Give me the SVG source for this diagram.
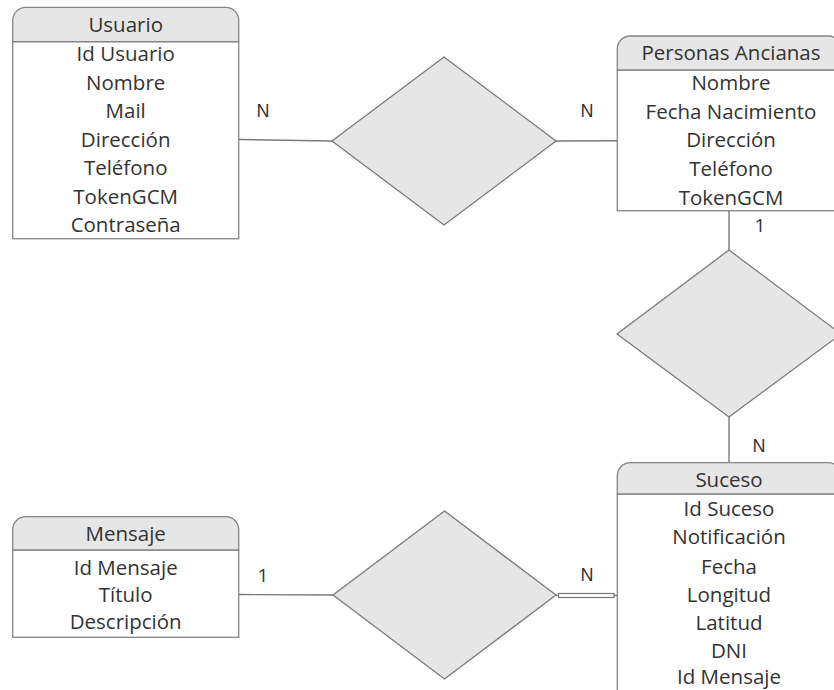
<svg xmlns="http://www.w3.org/2000/svg" width="834" height="690" viewBox="0 0 834 690">
  <defs>
    <style>
      .box { fill: #ffffff; stroke: #858585; stroke-width: 1.3; }
      .head { fill: #e6e6e6; stroke: #858585; stroke-width: 1.3; }
      .rel { fill: #e6e6e6; stroke: #7a7a7a; stroke-width: 1.3; }
      .conn { fill: none; stroke: #7a7a7a; stroke-width: 1.4; }
      .t { font-family: "Open Sans", "Noto Sans", sans-serif; font-size: 20.5px; fill: #333333; text-anchor: middle; }
      .card { font-family: "Liberation Sans", Arial, sans-serif; font-size: 18px; fill: #333333; text-anchor: middle; }
      .one { font-family: "Open Sans", "Noto Sans", sans-serif; font-size: 19px; fill: #333333; text-anchor: middle; }
    </style>
  </defs>

  <!-- connectors -->
  <g id="connectors">
    <line class="conn" x1="238.5" y1="139.5" x2="332" y2="141"/>
    <line class="conn" x1="556" y1="141" x2="617" y2="140.7"/>
    <line class="conn" x1="729" y1="210.7" x2="729" y2="250"/>
    <line class="conn" x1="729" y1="417" x2="729" y2="462.7"/>
    <line class="conn" x1="238.5" y1="594.5" x2="333" y2="595"/>
    <!-- double line into Suceso -->
    <rect x="558.5" y="593.5" width="55.5" height="4" fill="#ffffff" stroke="#7a7a7a" stroke-width="1.2"/>
    <line class="conn" x1="614" y1="595.5" x2="617" y2="595.5"/>
    <line class="conn" x1="556" y1="595.5" x2="558.5" y2="595.5"/>
  </g>

  <!-- cardinality labels -->
  <g id="labels">
    <text class="card" x="263" y="117">N</text>
    <text class="card" x="587" y="117">N</text>
    <text class="one" x="760" y="232">1</text>
    <text class="card" x="759" y="452">N</text>
    <text class="one" x="263" y="582">1</text>
    <text class="card" x="587" y="581">N</text>
  </g>

  <!-- relationships -->
  <g id="rel-usuario-personas">
    <polygon class="rel" points="444,57 556,141 444,225 332,141"/>
  </g>
  <g id="rel-personas-suceso">
    <polygon class="rel" points="729,250 841,334 729,417 617,334"/>
  </g>
  <g id="rel-mensaje-suceso">
    <polygon class="rel" points="444.5,511 556,595 444.5,679 333,595"/>
  </g>

  <!-- entity: Usuario -->
  <g id="usuario">
    <rect class="box" x="12.7" y="41.7" width="226" height="197"/>
    <path class="head" d="M12.7,41.7 V20.3 A13,13 0 0 1 25.7,7.3 H225.7 A13,13 0 0 1 238.7,20.3 V41.7 Z"/>
    <text class="t" x="125.7" y="32">Usuario</text>
    <text class="t" x="125.7" y="61">Id Usuario</text>
    <text class="t" x="125.7" y="90">Nombre</text>
    <text class="t" x="125.7" y="118">Mail</text>
    <text class="t" x="125.7" y="147">Dirección</text>
    <text class="t" x="125.7" y="175">Teléfono</text>
    <text class="t" x="125.7" y="204">TokenGCM</text>
    <text class="t" x="125.7" y="232">Contraseña</text>
  </g>

  <!-- entity: Personas Ancianas -->
  <g id="personas-ancianas">
    <rect class="box" x="617.3" y="70" width="224" height="140.7"/>
    <path class="head" d="M617.3,70 V49 A13,13 0 0 1 630.3,36 H828.3 A13,13 0 0 1 841.3,49 V70 Z"/>
    <text class="t" x="731" y="60">Personas Ancianas</text>
    <text class="t" x="731" y="90">Nombre</text>
    <text class="t" x="731" y="119">Fecha Nacimiento</text>
    <text class="t" x="731" y="147">Dirección</text>
    <text class="t" x="731" y="176">Teléfono</text>
    <text class="t" x="731" y="205">TokenGCM</text>
  </g>

  <!-- entity: Suceso -->
  <g id="suceso">
    <rect class="box" x="617.3" y="494" width="224" height="210"/>
    <path class="head" d="M617.3,494 V475.7 A13,13 0 0 1 630.3,462.7 H828.3 A13,13 0 0 1 841.3,475.7 V494 Z"/>
    <text class="t" x="729" y="487">Suceso</text>
    <text class="t" x="729" y="516">Id Suceso</text>
    <text class="t" x="729" y="544">Notificación</text>
    <text class="t" x="729" y="574">Fecha</text>
    <text class="t" x="729" y="602">Longitud</text>
    <text class="t" x="729" y="630">Latitud</text>
    <text class="t" x="729" y="658">DNI</text>
    <text class="t" x="729" y="684">Id Mensaje</text>
  </g>

  <!-- entity: Mensaje -->
  <g id="mensaje">
    <rect class="box" x="12.7" y="550" width="226" height="87.3"/>
    <path class="head" d="M12.7,550 V529.7 A13,13 0 0 1 25.7,516.7 H225.7 A13,13 0 0 1 238.7,529.7 V550 Z"/>
    <text class="t" x="125.7" y="541">Mensaje</text>
    <text class="t" x="125.7" y="575">Id Mensaje</text>
    <text class="t" x="125.7" y="602">Título</text>
    <text class="t" x="125.7" y="629">Descripción</text>
  </g>
</svg>
